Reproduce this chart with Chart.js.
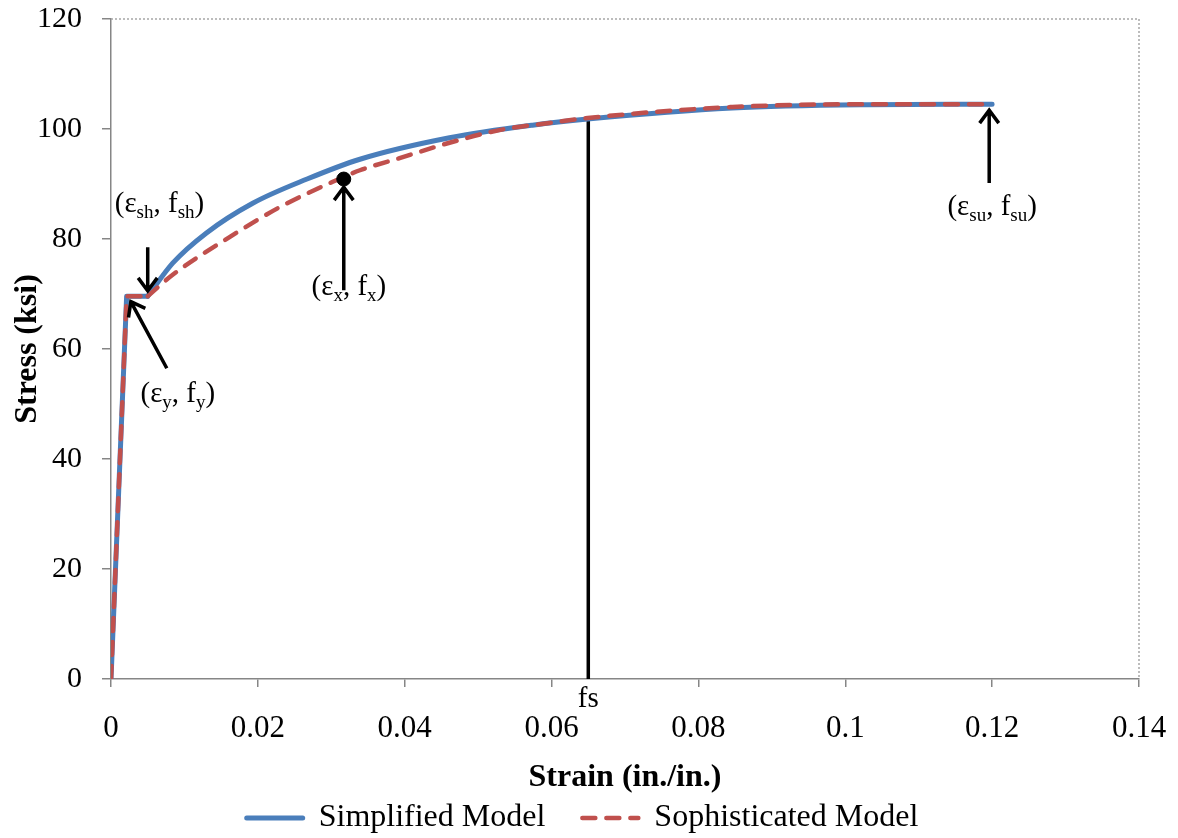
<!DOCTYPE html>
<html>
<head>
<meta charset="utf-8">
<script src="https://cdn.jsdelivr.net/npm/chart.js@4/dist/chart.umd.min.js"></script>
<style>
html, body { margin: 0; padding: 0; background: #fff; }
</style>
</head>
<body>
<canvas id="stressChart" width="1178" height="838"></canvas>
<script>
// --- data ---
const simpleStrain = [0, 0.00213, 0.005, 0.0084, 0.013, 0.0193, 0.0267, 0.0339, 0.0461, 0.0574, 0.0649, 0.0846, 0.1029, 0.12];
const simpleStress = [0, 69.6, 69.6, 75.6, 81.1, 86.5, 90.9, 94.5, 98.4, 100.7, 101.8, 103.8, 104.4, 104.5];

const sophStrain = [0, 0.00213, 0.005, 0.0084, 0.0162, 0.023, 0.0302, 0.0339, 0.0393, 0.0461, 0.0529, 0.0597, 0.0649, 0.0846, 0.1029, 0.12];
const sophStress = [0, 69.6, 69.6, 73.5, 80.4, 85.8, 90.4, 92.5, 94.7, 97.5, 99.8, 101.1, 102.0, 104.0, 104.5, 104.5];

const pointX = [0.0317];
const pointY = [90.9];

const fsStrain = [0.065, 0.065];
const fsStress = [0, 101.8];

const seriesNames = ['Simplified Model', 'Sophisticated Model'];
const xTickLabels = ['0', '0.02', '0.04', '0.06', '0.08', '0.1', '0.12', '0.14'];
const yTickLabels = ['0', '20', '40', '60', '80', '100', '120'];

const serif = '"Liberation Serif", "Times New Roman", serif';
const axisGray = '#868686';
const blue = '#4a7ebb', red = '#c0504d';
const shIndex = 2; // start of strain hardening in both series

function pairs(xs, ys) {
    return xs.map((v, i) => ({x: v, y: ys[i]}));
}

// annotation arrows (tail -> tip) and labels, in data units
const arrows = [
    {from: [0.005, 78.5], to: [0.005, 70.6]},
    {from: [0.0076, 56.5], to: [0.0027, 68.6]},
    {from: [0.0317, 70.7], to: [0.0317, 89.4]},
    {from: [0.1196, 90.2], to: [0.1196, 103.4]}
];
const labels = [
    {at: [0.0066, 84.9], parts: [['(ε', 0], ['sh', 1], [', f', 0], ['sh', 1], [')', 0]]},
    {at: [0.0091, 50.4], parts: [['(ε', 0], ['y', 1], [', f', 0], ['y', 1], [')', 0]]},
    {at: [0.0324, 69.8], parts: [['(ε', 0], ['x', 1], [', f', 0], ['x', 1], [')', 0]]},
    {at: [0.1200, 84.4], parts: [['(ε', 0], ['su', 1], [', f', 0], ['su', 1], [')', 0]]}
];

function drawArrow(ctx, x1, y1, x2, y2) {
    const ang = Math.atan2(y2 - y1, x2 - x1);
    const head = 16, spread = 0.64;
    ctx.beginPath();
    ctx.moveTo(x1, y1);
    ctx.lineTo(x2, y2);
    ctx.moveTo(x2 - head * Math.cos(ang - spread), y2 - head * Math.sin(ang - spread));
    ctx.lineTo(x2, y2);
    ctx.lineTo(x2 - head * Math.cos(ang + spread), y2 - head * Math.sin(ang + spread));
    ctx.stroke();
}

function drawParts(ctx, parts, cx, base) {
    const mainFont = '29px ' + serif, subFont = '19px ' + serif;
    let w = 0;
    parts.forEach(p => { ctx.font = p[1] ? subFont : mainFont; w += ctx.measureText(p[0]).width; });
    let xPos = cx - w / 2;
    parts.forEach(p => {
        ctx.font = p[1] ? subFont : mainFont;
        ctx.fillText(p[0], xPos, base + (p[1] ? 6 : 0));
        xPos += ctx.measureText(p[0]).width;
    });
}

const frameAndNotes = {
    id: 'frameAndNotes',
    beforeDraw(chart) {
        // nudge legend row down and right a little
        const lg = chart.legend;
        if (lg && !lg._nudged) {
            lg.top += 6; lg.bottom += 6;
            lg.left += 13; lg.right += 13;
            lg._nudged = true;
        }
    },
    beforeDatasetsDraw(chart) {
        const {ctx, chartArea: a} = chart;
        ctx.save();
        ctx.strokeStyle = '#a6a6a6';
        ctx.lineWidth = 1.5;
        ctx.setLineDash([2, 2]);
        ctx.beginPath();
        ctx.moveTo(a.left, a.top);
        ctx.lineTo(a.right, a.top);
        ctx.lineTo(a.right, a.bottom);
        ctx.stroke();
        ctx.restore();
    },
    afterDatasetsDraw(chart) {
        const {ctx, chartArea: a, scales: {x, y}} = chart;
        ctx.save();
        ctx.strokeStyle = '#000';
        ctx.fillStyle = '#000';
        ctx.lineWidth = 3.5;
        arrows.forEach(ar => drawArrow(ctx,
            x.getPixelForValue(ar.from[0]), y.getPixelForValue(ar.from[1]),
            x.getPixelForValue(ar.to[0]), y.getPixelForValue(ar.to[1])));
        ctx.textBaseline = 'alphabetic';
        ctx.textAlign = 'left';
        labels.forEach(l => drawParts(ctx, l.parts, x.getPixelForValue(l.at[0]), y.getPixelForValue(l.at[1])));
        ctx.font = '29px ' + serif;
        ctx.textAlign = 'center';
        ctx.fillText('fs', x.getPixelForValue(fsStrain[0]), a.bottom + 28);
        ctx.restore();
    }
};

const blueStyle = {borderColor: blue, backgroundColor: blue, borderWidth: 5, pointRadius: 0,
    borderJoinStyle: 'round', borderCapStyle: 'round'};
const redStyle = {borderColor: red, backgroundColor: red, borderWidth: 4.5, borderDash: [13, 11], pointRadius: 0,
    borderJoinStyle: 'round', borderCapStyle: 'round'};

new Chart(document.getElementById('stressChart'), {
    type: 'line',
    data: {
        datasets: [
            // hardening branches (smooth)
            Object.assign({label: seriesNames[0], order: 2, cubicInterpolationMode: 'monotone',
                data: pairs(simpleStrain.slice(shIndex), simpleStress.slice(shIndex))}, blueStyle),
            Object.assign({label: seriesNames[1], order: 1, cubicInterpolationMode: 'monotone',
                data: pairs(sophStrain.slice(shIndex), sophStress.slice(shIndex))}, redStyle),
            // elastic + yield plateau (straight)
            Object.assign({label: seriesNames[0], order: 2, tension: 0,
                data: pairs(simpleStrain.slice(0, shIndex + 1), simpleStress.slice(0, shIndex + 1))}, blueStyle),
            Object.assign({label: seriesNames[1], order: 1, tension: 0,
                data: pairs(sophStrain.slice(0, shIndex + 1), sophStress.slice(0, shIndex + 1))}, redStyle),
            {
                label: 'fs',
                data: pairs(fsStrain, fsStress),
                borderColor: '#000',
                borderWidth: 3.5,
                pointRadius: 0,
                order: 3
            },
            {
                label: 'point',
                data: pairs(pointX, pointY),
                showLine: false,
                pointRadius: 7,
                pointBackgroundColor: '#000',
                pointBorderColor: '#000',
                order: 0
            }
        ]
    },
    options: {
        responsive: false,
        animation: false,
        layout: {padding: {top: 19, right: 39, left: 0, bottom: 0}},
        plugins: {
            tooltip: {enabled: false},
            legend: {
                position: 'bottom',
                labels: {
                    filter: item => item.datasetIndex < 2,
                    sort: (a, b) => a.datasetIndex - b.datasetIndex,
                    generateLabels: chart => Chart.defaults.plugins.legend.labels.generateLabels(chart).map(it => {
                        const ds = chart.data.datasets[it.datasetIndex];
                        it.lineDash = ds.borderDash || [];
                        it.lineWidth = ds.borderWidth;
                        it.strokeStyle = ds.borderColor;
                        it.lineCap = 'round';
                        return it;
                    }),
                    usePointStyle: true,
                    pointStyle: 'line',
                    pointStyleWidth: 56,
                    boxHeight: 4,
                    padding: 37,
                    color: '#000',
                    font: {family: serif, size: 32}
                }
            }
        },
        scales: {
            x: {
                type: 'linear',
                min: 0,
                max: 0.14,
                ticks: {
                    stepSize: 0.02,
                    padding: 23,
                    color: '#000',
                    font: {family: serif, size: 31},
                    maxRotation: 0,
                    callback: (v, i) => xTickLabels[i]
                },
                grid: {drawOnChartArea: false, drawTicks: true, tickLength: 8, color: axisGray, lineWidth: 1.5},
                border: {color: axisGray, width: 1.5},
                title: {
                    display: true,
                    text: 'Strain (in./in.)',
                    color: '#000',
                    font: {family: serif, size: 32, weight: 'bold'},
                    padding: {top: 0, bottom: -38}
                },
                afterFit: s => { s.height = 80; s.paddingLeft = 0; s.paddingRight = 0; }
            },
            y: {
                min: 0,
                max: 120,
                ticks: {
                    stepSize: 20,
                    padding: 20,
                    color: '#000',
                    font: {family: serif, size: 30},
                    callback: (v, i) => yTickLabels[i]
                },
                grid: {drawOnChartArea: false, drawTicks: true, tickLength: 9, color: axisGray, lineWidth: 1.5},
                border: {color: axisGray, width: 1.5},
                title: {
                    display: true,
                    text: 'Stress (ksi)',
                    color: '#000',
                    font: {family: serif, size: 32, weight: 'bold'},
                    padding: {top: 9, bottom: 0}
                },
                afterFit: s => { s.width = 111; s.paddingTop = 0; s.paddingBottom = 0; }
            }
        }
    },
    plugins: [frameAndNotes]
});
</script>
</body>
</html>
